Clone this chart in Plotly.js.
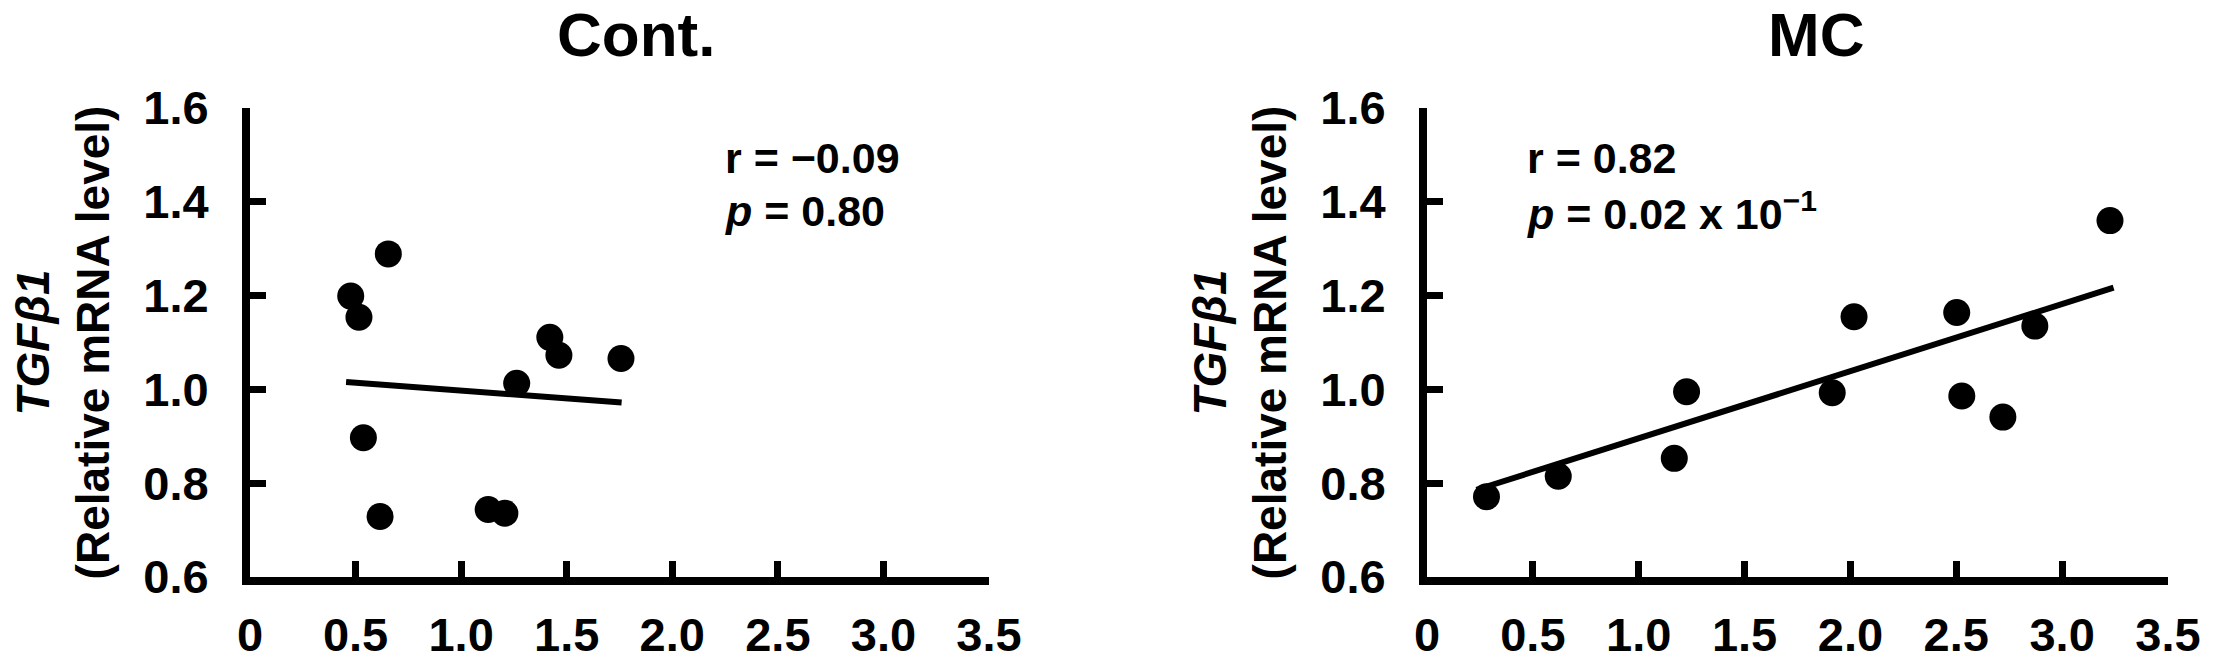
<!DOCTYPE html>
<html>
<head>
<meta charset="utf-8">
<script src="https://cdn.plot.ly/plotly-3.0.1.min.js"></script>
<style>html,body{margin:0;padding:0;background:#fff;}#chart{width:2218px;height:671px;}</style>
</head>
<body>
<div id="chart"></div>
<script>
// Panel titles
const panelTitles = ["Cont.", "MC"];

// Cont. group scatter
const contX = [0.655, 0.477, 0.516, 0.537, 0.616, 1.128, 1.207, 1.263, 1.420, 1.463, 1.757];
const contY = [1.289, 1.199, 1.154, 0.897, 0.729, 0.744, 0.736, 1.013, 1.111, 1.073, 1.066];
// Cont. regression line endpoints
const contLineX = [0.455, 1.76];
const contLineY = [1.016, 0.972];

// MC group scatter
const mcX = [0.281, 0.620, 1.168, 1.226, 1.914, 2.017, 2.502, 2.526, 2.720, 2.871, 3.226];
const mcY = [0.771, 0.815, 0.853, 0.995, 0.993, 1.155, 1.164, 0.986, 0.941, 1.135, 1.360];
// MC regression line endpoints
const mcLineX = [0.234, 3.243];
const mcLineY = [0.786, 1.217];

// Statistics text
const contStats = ["r = \u22120.09", "<i>p</i> = 0.80"];
const mcStats = ["r = 0.82", "<i>p</i> = 0.02 x 10<sup>\u22121</sup>"];

// Tick labels
const xTickVals = [0, 0.5, 1.0, 1.5, 2.0, 2.5, 3.0, 3.5];
const xTickText = ["0", "0.5", "1.0", "1.5", "2.0", "2.5", "3.0", "3.5"];
const yTickVals = [0.6, 0.8, 1.0, 1.2, 1.4, 1.6];
const yTickText = ["0.6", "0.8", "1.0", "1.2", "1.4", "1.6"];
const yTitle = "<i>TGF\u03B21</i><br>(Relative mRNA level)";

const FAM = "'Liberation Sans', Arial, Helvetica, sans-serif";
const markerStyle = {color: "#000", size: 27, line: {width: 0}};
const lineStyle = {color: "#000", width: 6};

const traces = [
  {x: contX, y: contY, mode: "markers", type: "scatter", marker: markerStyle, xaxis: "x", yaxis: "y", showlegend: false},
  {x: contLineX, y: contLineY, mode: "lines", type: "scatter", line: lineStyle, xaxis: "x", yaxis: "y", showlegend: false},
  {x: mcX, y: mcY, mode: "markers", type: "scatter", marker: markerStyle, xaxis: "x2", yaxis: "y2", showlegend: false},
  {x: mcLineX, y: mcLineY, mode: "lines", type: "scatter", line: lineStyle, xaxis: "x2", yaxis: "y2", showlegend: false}
];

const tickFont = {family: FAM, size: 47, color: "#000", weight: 700};
function xAxis(domain, anchor) {
  return {
    domain: domain, anchor: anchor, range: [0, 3.5], fixedrange: true,
    tickmode: "array", tickvals: xTickVals, ticktext: xTickText,
    ticks: "inside", ticklen: 16, tickwidth: 7, tickcolor: "#000",
    showline: true, linewidth: 8, linecolor: "#000",
    showgrid: false, zeroline: false, tickfont: tickFont, ticklabelstandoff: 10
  };
}
function yAxis(domain, anchor) {
  return {
    domain: domain, anchor: anchor, range: [0.6, 1.6], fixedrange: true,
    tickmode: "array", tickvals: yTickVals, ticktext: yTickText,
    ticks: "inside", ticklen: 16, tickwidth: 7, tickcolor: "#000",
    showline: true, linewidth: 8, linecolor: "#000",
    showgrid: false, zeroline: false, tickfont: tickFont, ticklabelstandoff: 24,
    title: {text: yTitle, font: {family: FAM, size: 46, color: "#000", weight: 700}, standoff: 22}
  };
}

const yDom = [0.1401, 0.8390];
const statFont = {family: FAM, size: 43, color: "#000", weight: 700};
const titleFont = {family: FAM, size: 62, color: "#000", weight: 700};

const annotations = [
  {text: panelTitles[0], xref: "paper", yref: "paper", x: 0.2868, y: 0.948, xanchor: "center", yanchor: "middle", showarrow: false, font: titleFont},
  {text: panelTitles[1], xref: "paper", yref: "paper", x: 0.8188, y: 0.948, xanchor: "center", yanchor: "middle", showarrow: false, font: titleFont},
  {text: contStats[0], xref: "paper", yref: "paper", x: 0.3260, y: 0.765, xanchor: "left", yanchor: "middle", showarrow: false, font: statFont},
  {text: contStats[1], xref: "paper", yref: "paper", x: 0.3260, y: 0.686, xanchor: "left", yanchor: "middle", showarrow: false, font: statFont},
  {text: mcStats[0], xref: "paper", yref: "paper", x: 0.6876, y: 0.764, xanchor: "left", yanchor: "middle", showarrow: false, font: statFont},
  {text: mcStats[1], xref: "paper", yref: "paper", x: 0.6876, y: 0.685, xanchor: "left", yanchor: "middle", showarrow: false, font: statFont}
];

const layout = {
  width: 2218, height: 671,
  margin: {l: 0, r: 0, t: 0, b: 0},
  paper_bgcolor: "#fff", plot_bgcolor: "#fff",
  font: {family: FAM, color: "#000"},
  xaxis: xAxis([0.11272, 0.44590], "y"),
  yaxis: yAxis(yDom, "x"),
  xaxis2: xAxis([0.64337, 0.97746], "y2"),
  yaxis2: yAxis(yDom, "x2"),
  annotations: annotations,
  showlegend: false
};

Plotly.newPlot("chart", traces, layout, {displayModeBar: false, staticPlot: true});
</script>
</body>
</html>
